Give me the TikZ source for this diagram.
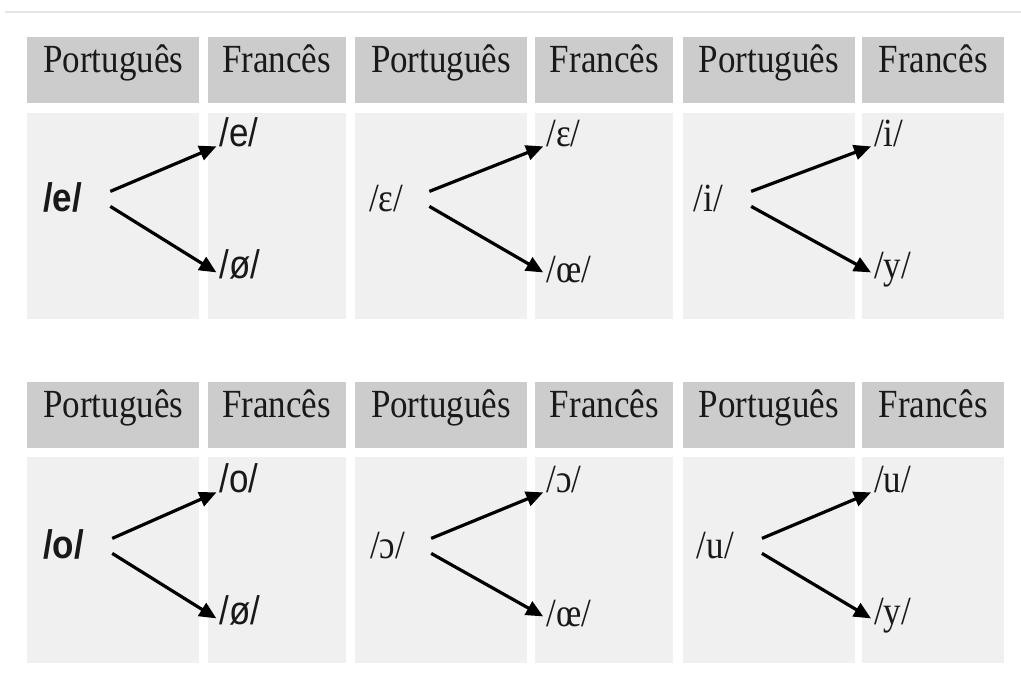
\documentclass[tikz,border=0pt]{standalone}
\usepackage{fontspec}
\setmainfont{Liberation Serif}
\newfontfamily\ipasans{Liberation Sans}
\usepackage{graphicx}
\usepackage{tikz}
\usetikzlibrary{arrows.meta, positioning, calc}
\newcommand{\vtall}[1]{\scalebox{1}[1.14]{#1}}
\tikzset{
  headcell/.style={rectangle,fill=black!20,text=black!90,inner xsep=0pt,inner ysep=0pt,
    text height=35pt,text depth=31pt,font=\fontsize{35}{40}\selectfont},
  porthead/.style={headcell,minimum width=172pt},
  franhead/.style={headcell,minimum width=138pt},
  bodycell/.style={rectangle,fill=black!6,inner sep=0pt,minimum height=206pt},
  portbody/.style={bodycell,minimum width=172pt},
  franbody/.style={bodycell,minimum width=138pt},
  vowel/.style={anchor=base west,inner sep=1pt,text=black!90,font=\fontsize{35}{40}\selectfont},
  arrow/.style={-{Triangle[length=17pt,width=15pt]},line width=3.2pt,draw=black}
}

\begin{document}
\begin{tikzpicture}[x=1pt,y=-1pt]
  \useasboundingbox[fill=white] (0,0) rectangle (1021,682);
  \draw[black!10,line width=1.5pt] (5,12) -- (1021,12);

  % row 1: headers
  \node[porthead,anchor=north west] (p1h) at (27,37) {\vtall{Português}};
  \node[franhead,right=8pt of p1h] (f1h) {\vtall{Francês}};
  \node[porthead,right=9pt of f1h] (p2h) {\vtall{Português}};
  \node[franhead,right=8pt of p2h] (f2h) {\vtall{Francês}};
  \node[porthead,right=9pt of f2h] (p3h) {\vtall{Português}};
  \node[franhead,minimum width=142pt,right=7pt of p3h] (f3h) {\vtall{Francês}};
  % row 1: bodies
  \node[portbody,below=9pt of p1h] (p1b) {};
  \node[franbody,below=9pt of f1h] (f1b) {};
  \node[portbody,below=9pt of p2h] (p2b) {};
  \node[franbody,below=9pt of f2h] (f2b) {};
  \node[portbody,below=9pt of p3h] (p3b) {};
  \node[franbody,minimum width=142pt,below=9pt of f3h] (f3b) {};

  % row 2: headers
  \node[porthead,anchor=north west] (p4h) at (27,382) {\vtall{Português}};
  \node[franhead,right=8pt of p4h] (f4h) {\vtall{Francês}};
  \node[porthead,right=9pt of f4h] (p5h) {\vtall{Português}};
  \node[franhead,right=8pt of p5h] (f5h) {\vtall{Francês}};
  \node[porthead,right=9pt of f5h] (p6h) {\vtall{Português}};
  \node[franhead,minimum width=142pt,right=7pt of p6h] (f6h) {\vtall{Francês}};
  % row 2: bodies
  \node[portbody,below=8pt of p4h] (p4b) {};
  \node[franbody,below=8pt of f4h] (f4b) {};
  \node[portbody,below=8pt of p5h] (p5b) {};
  \node[franbody,below=8pt of f5h] (f5b) {};
  \node[portbody,below=8pt of p6h] (p6b) {};
  \node[franbody,minimum width=142pt,below=8pt of f6h] (f6b) {};

  % vowels, row 1
  \node[vowel] (s1) at ($(p1b.north west)+(15,99)$) {\vtall{\ipasans\bfseries /e/}};
  \node[vowel] (a1) at ($(f1b.north west)+(11,34)$) {\vtall{\ipasans /e/}};
  \node[vowel] (b1) at ($(f1b.north west)+(11,166)$) {\vtall{\ipasans /ø/}};
  \node[vowel] (s2) at ($(p2b.north west)+(13,99)$) {\vtall{/ɛ/}};
  \node[vowel] (a2) at ($(f2b.north west)+(10,34)$) {\vtall{/ɛ/}};
  \node[vowel] (b2) at ($(f2b.north west)+(10,170)$) {\vtall{/œ/}};
  \node[vowel] (s3) at ($(p3b.north west)+(10,99)$) {\vtall{/i/}};
  \node[vowel] (a3) at ($(f3b.north west)+(11,34)$) {\vtall{/i/}};
  \node[vowel] (b3) at ($(f3b.north west)+(11,166)$) {\vtall{/y/}};

  % vowels, row 2
  \node[vowel] (s4) at ($(p4b.north west)+(15,102)$) {\vtall{\ipasans\bfseries /o/}};
  \node[vowel] (a4) at ($(f4b.north west)+(11,36)$) {\vtall{\ipasans /o/}};
  \node[vowel] (b4) at ($(f4b.north west)+(11,168)$) {\vtall{\ipasans /ø/}};
  \node[vowel] (s5) at ($(p5b.north west)+(14,102)$) {\vtall{/ɔ/}};
  \node[vowel] (a5) at ($(f5b.north west)+(10,36)$) {\vtall{/ɔ/}};
  \node[vowel] (b5) at ($(f5b.north west)+(10,170)$) {\vtall{/œ/}};
  \node[vowel] (s6) at ($(p6b.north west)+(13,102)$) {\vtall{/u/}};
  \node[vowel] (a6) at ($(f6b.north west)+(11,36)$) {\vtall{/u/}};
  \node[vowel] (b6) at ($(f6b.north west)+(11,168)$) {\vtall{/y/}};

  % arrows
  \draw[arrow] ([shift={(27pt,20pt)}]s1.base east) -- ([xshift=-2pt]a1.base west);
  \draw[arrow] ([shift={(27pt,5pt)}]s1.base east) -- ([shift={(-2pt,6pt)}]b1.base west);
  \draw[arrow] ([shift={(25pt,20pt)}]s2.base east) -- ([xshift=-2pt]a2.base west);
  \draw[arrow] ([shift={(25pt,5pt)}]s2.base east) -- ([shift={(-2pt,10pt)}]b2.base west);
  \draw[arrow] ([shift={(27pt,20pt)}]s3.base east) -- ([xshift=-2pt]a3.base west);
  \draw[arrow] ([shift={(27pt,5pt)}]s3.base east) -- ([shift={(-2pt,6pt)}]b3.base west);
  \draw[arrow] ([shift={(27pt,20pt)}]s4.base east) -- ([xshift=-2pt]a4.base west);
  \draw[arrow] ([shift={(27pt,5pt)}]s4.base east) -- ([shift={(-2pt,6pt)}]b4.base west);
  \draw[arrow] ([shift={(25pt,20pt)}]s5.base east) -- ([xshift=-2pt]a5.base west);
  \draw[arrow] ([shift={(25pt,5pt)}]s5.base east) -- ([shift={(-2pt,10pt)}]b5.base west);
  \draw[arrow] ([shift={(27pt,20pt)}]s6.base east) -- ([xshift=-2pt]a6.base west);
  \draw[arrow] ([shift={(27pt,5pt)}]s6.base east) -- ([shift={(-2pt,6pt)}]b6.base west);
\end{tikzpicture}
\end{document}
